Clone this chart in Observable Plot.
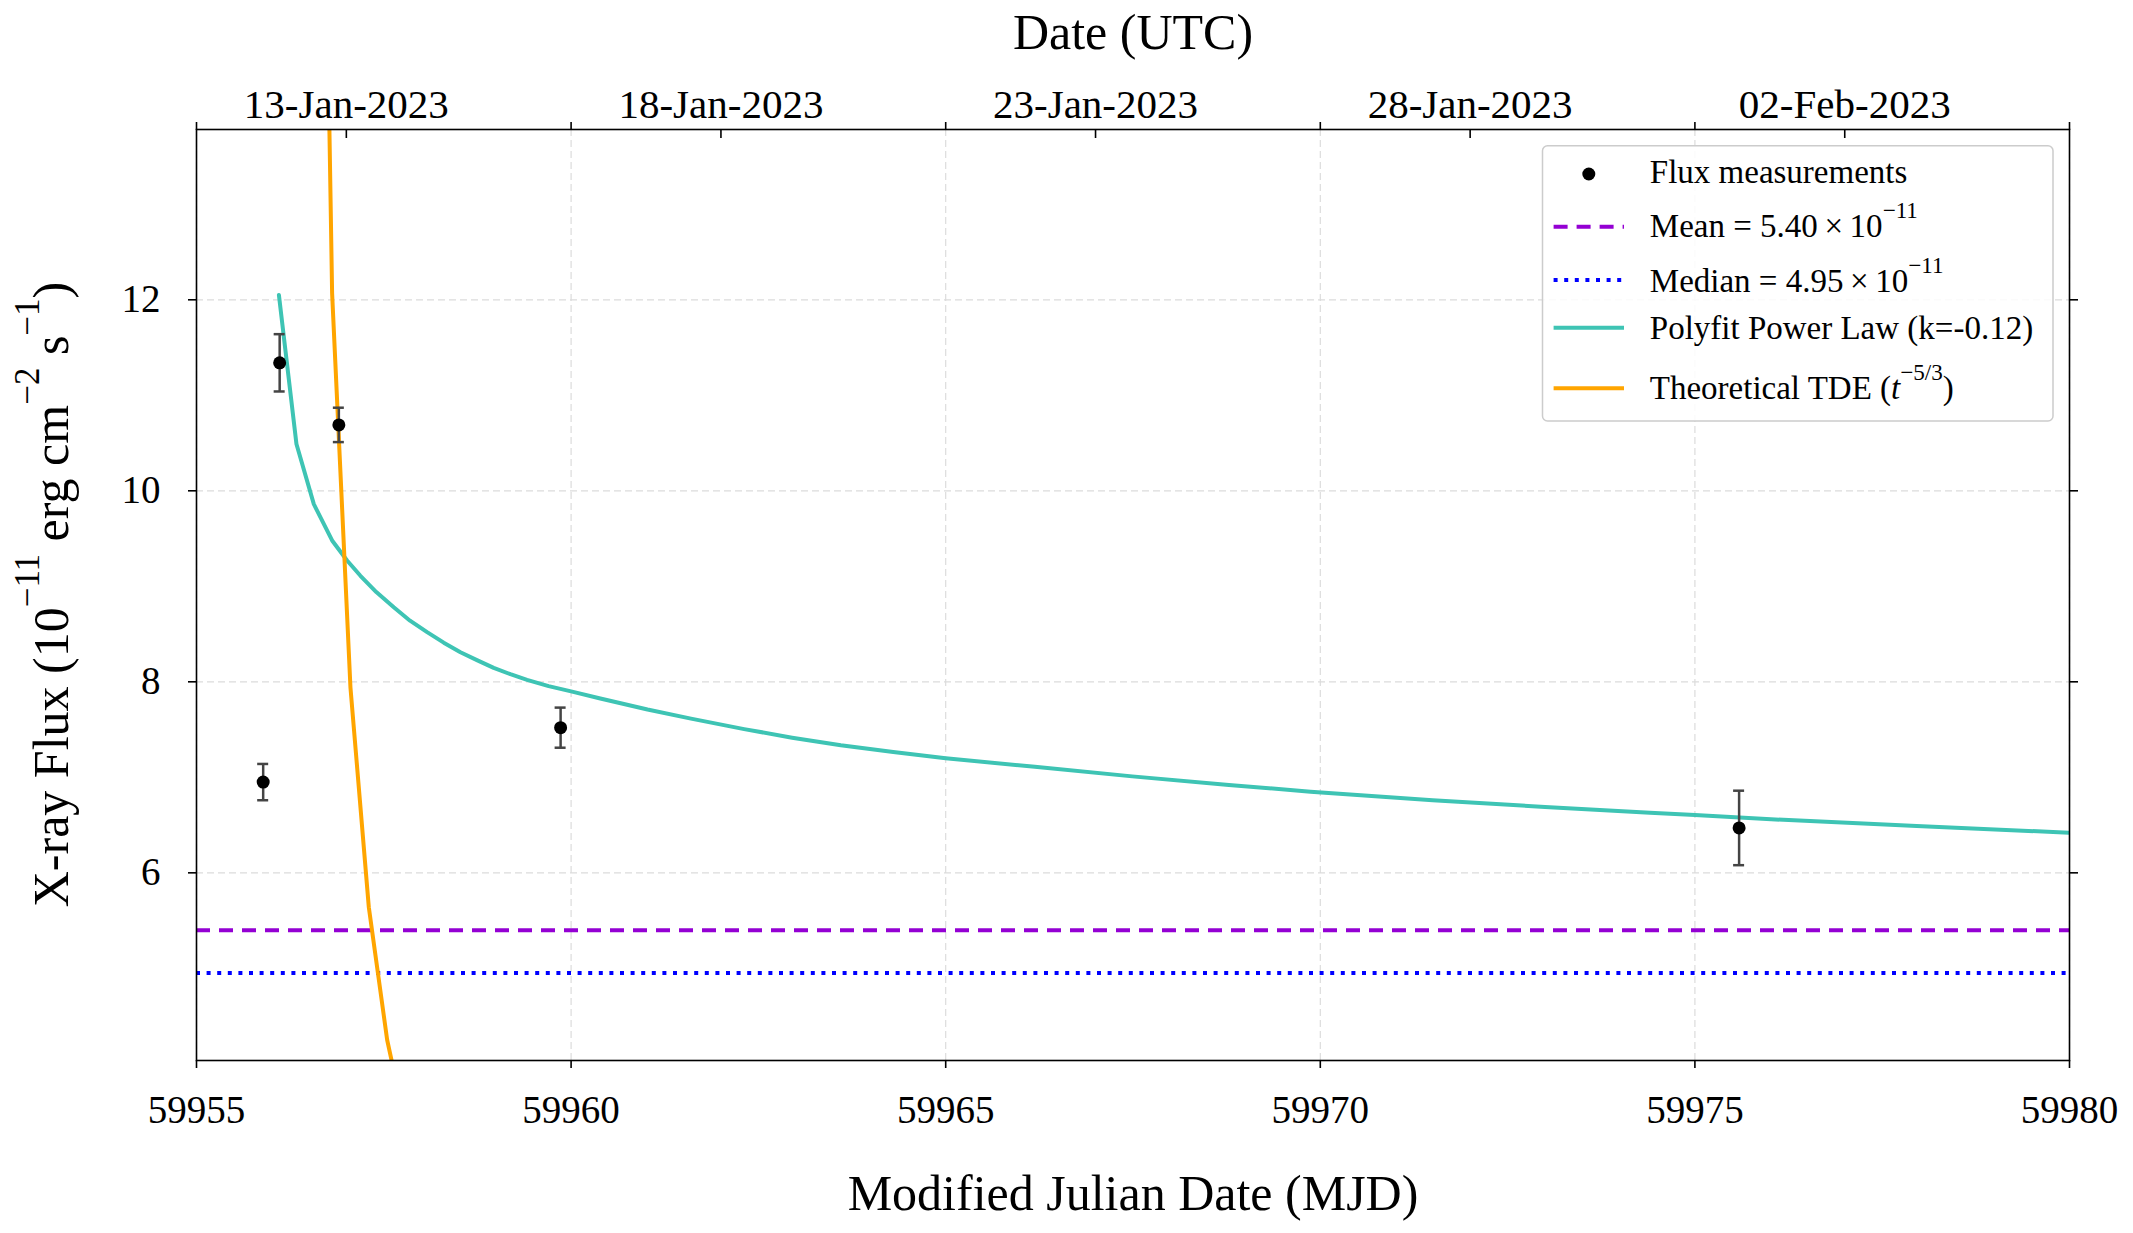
<!DOCTYPE html>
<html><head><meta charset="utf-8">
<script src="https://cdn.jsdelivr.net/npm/d3@7"></script>
<script src="https://cdn.jsdelivr.net/npm/@observablehq/plot@0.6"></script>
<style>body{margin:0;background:#fff}</style>
</head><body><div id="chart"></div>
<script>
// Flux measurements (10^-11 erg cm^-2 s^-1)
const obsMjd = [59955.89, 59956.11, 59956.90, 59959.86, 59975.59];
const obsFlux = [6.95, 11.34, 10.69, 7.52, 6.47];
const obsErr = [0.19, 0.30, 0.18, 0.21, 0.39];

// Polyfit power-law curve
const fitMjd = [59956.10, 59956.334, 59956.566, 59956.81, 59957.01, 59957.188, 59957.40, 59957.633, 59957.85, 59958.078, 59958.30, 59958.523, 59958.75, 59958.967, 59959.19, 59959.412, 59959.70, 59960.0, 59960.39, 59961.02, 59961.60, 59962.31, 59962.95, 59963.60, 59964.30, 59965.0, 59966.19, 59967.49, 59968.78, 59969.87, 59971.5, 59973.0, 59974.4, 59975.0, 59976.18, 59977.96, 59980.0];
const fitFlux = [12.05, 10.49, 9.86, 9.48, 9.27, 9.11, 8.94, 8.78, 8.64, 8.52, 8.41, 8.31, 8.225, 8.146, 8.08, 8.021, 7.955, 7.90, 7.825, 7.71, 7.615, 7.505, 7.415, 7.335, 7.265, 7.20, 7.11, 7.01, 6.92, 6.85, 6.76, 6.69, 6.63, 6.605, 6.555, 6.49, 6.42];

// Theoretical TDE t^-5/3 curve
const tdeMjd = [59956.57, 59956.81, 59957.055, 59957.30, 59957.545, 59957.79];
const tdeFlux = [23.5, 12.07, 7.94, 5.64, 4.25, 3.36];

const meanFlux = 5.40;
const medianFlux = 4.95;

const xTicks = [59955, 59960, 59965, 59970, 59975, 59980];
const yTicks = [6, 8, 10, 12];
const dateTicks = [59957, 59962, 59967, 59972, 59977];
const dateLabels = ["13-Jan-2023", "18-Jan-2023", "23-Jan-2023", "28-Jan-2023", "02-Feb-2023"];
const xDomain = [59955, 59980];
const yDomain = [4.035, 13.783];

const xTitle = "Modified Julian Date (MJD)";
const topTitle = "Date (UTC)";

const points = obsMjd.map((x, i) => ({x, y: obsFlux[i], lo: obsFlux[i] - obsErr[i], hi: obsFlux[i] + obsErr[i]}));
const fit = fitMjd.map((x, i) => ({x, y: fitFlux[i]}));
const tde = tdeMjd.map((x, i) => ({x, y: tdeFlux[i]}));

const teal = "#3ec4b4";
const orange = "#FFA500";
const purple = "#9400D3";
const blue = "#0000FF";
const errColor = "#444444";
const gridStyle = {stroke: "#dcdcdc", strokeOpacity: 1, strokeDasharray: "7,4", strokeWidth: 1.2};

const chart = Plot.plot({
  width: 2133, height: 1233,
  marginLeft: 196, marginRight: 64, marginTop: 129, marginBottom: 173,
  x: {domain: xDomain},
  y: {domain: yDomain},
  style: {fontFamily: "'Liberation Serif', 'Times New Roman', serif", fontSize: "39px", background: "white", color: "black"},
  marks: [
    Plot.gridX(xTicks, gridStyle),
    Plot.gridY(yTicks, gridStyle),
    Plot.ruleY([meanFlux], {stroke: purple, strokeWidth: 4, strokeDasharray: "14,9"}),
    Plot.ruleY([medianFlux], {stroke: blue, strokeWidth: 4, strokeDasharray: "4,6.6"}),
    Plot.line(fit, {x: "x", y: "y", stroke: teal, strokeWidth: 4, clip: true}),
    Plot.line(tde, {x: "x", y: "y", stroke: orange, strokeWidth: 4, clip: true}),
    Plot.ruleX(points, {x: "x", y1: "lo", y2: "hi", stroke: errColor, strokeWidth: 2.5}),
    Plot.ruleY(points, {y: "lo", x1: "x", x2: "x", insetLeft: -5.5, insetRight: -5.5, stroke: errColor, strokeWidth: 2.5}),
    Plot.ruleY(points, {y: "hi", x1: "x", x2: "x", insetLeft: -5.5, insetRight: -5.5, stroke: errColor, strokeWidth: 2.5}),
    Plot.dot(points, {x: "x", y: "y", r: 6.5, fill: "black", stroke: null}),
    Plot.frame({stroke: "black", strokeWidth: 1.6}),
    Plot.axisX(xTicks, {anchor: "bottom", tickSize: 8, tickPadding: 27, tickFormat: d => String(d), label: null, fontSize: 39, strokeWidth: 1.6}),
    Plot.axisX(xTicks, {anchor: "top", tickSize: 8, tickFormat: () => "", label: null, strokeWidth: 1.6}),
    Plot.axisX(dateTicks, {anchor: "top", tickSize: 0, tickPadding: 12, tickFormat: d => dateLabels[dateTicks.indexOf(d)], label: null, fontSize: 41}),
    Plot.axisX(dateTicks, {anchor: "top", tickSize: 8, dy: 8, tickFormat: () => "", label: null, strokeWidth: 1.6}),
    Plot.axisY(yTicks, {anchor: "left", tickSize: 8, tickPadding: 28, tickFormat: d => String(d), label: null, fontSize: 39, strokeWidth: 1.6}),
    Plot.axisY(yTicks, {anchor: "right", tickSize: 8, tickFormat: () => "", label: null, strokeWidth: 1.6}),
    Plot.text([xTitle], {text: d => d, frameAnchor: "bottom", lineAnchor: "middle", dy: 133, fontSize: 50}),
    Plot.text([topTitle], {text: d => d, frameAnchor: "top", lineAnchor: "middle", dy: -97, fontSize: 50})
  ]
});
document.getElementById("chart").appendChild(chart);

const svg = d3.select(chart);
const FONT = "'Liberation Serif', 'Times New Roman', serif";

function rich(sel, parts, size, supRaise) {
  let shifted = 0;
  parts.forEach(p => {
    const ts = sel.append("tspan").text(p.t);
    const want = p.sup ? -supRaise : 0;
    if (want !== shifted) { ts.attr("dy", want - shifted); shifted = want; }
    ts.attr("font-size", p.sup ? size * 0.7 : size);
    if (p.it) ts.attr("font-style", "italic");
  });
}

// y-axis title
const yl = svg.append("text")
  .attr("transform", "translate(68,594.5) rotate(-90)")
  .attr("text-anchor", "middle").attr("font-family", FONT).attr("fill", "black");
rich(yl, [
  {t: "X-ray Flux (10"}, {t: "\u221211", sup: true}, {t: " erg cm"}, {t: "\u22122", sup: true},
  {t: " s"}, {t: "\u22121", sup: true}, {t: ")"}
], 50, 29);

// legend
const lg = svg.append("g").attr("font-family", FONT).attr("text-anchor", "start");
lg.append("rect").attr("x", 1542.5).attr("y", 145.7).attr("width", 510.5).attr("height", 275.3)
  .attr("rx", 5).attr("fill", "white").attr("fill-opacity", 0.85).attr("stroke", "#cccccc").attr("stroke-width", 1.5);
const entries = [
  {kind: "dot", cy: 174, base: 183.3, parts: [{t: "Flux measurements"}]},
  {kind: "line", color: purple, dash: "14,9", cy: 226.7, base: 236.7, parts: [{t: "Mean = 5.40\u2009\u00d7\u200910"}, {t: "\u221211", sup: true}]},
  {kind: "line", color: blue, dash: "4,6.6", cy: 280, base: 291.7, parts: [{t: "Median = 4.95\u2009\u00d7\u200910"}, {t: "\u221211", sup: true}]},
  {kind: "line", color: teal, dash: null, cy: 327.7, base: 339.3, parts: [{t: "Polyfit Power Law (k=-0.12)"}]},
  {kind: "line", color: orange, dash: null, cy: 388.3, base: 399.3, parts: [{t: "Theoretical TDE ("}, {t: "t", it: true}, {t: "\u22125/3", sup: true}, {t: ")"}]}
];
entries.forEach(e => {
  if (e.kind === "dot") {
    lg.append("circle").attr("cx", 1588.8).attr("cy", e.cy).attr("r", 6.5).attr("fill", "black");
  } else {
    const l = lg.append("line").attr("x1", 1553.6).attr("x2", 1624).attr("y1", e.cy).attr("y2", e.cy)
      .attr("stroke", e.color).attr("stroke-width", 4);
    if (e.dash) l.attr("stroke-dasharray", e.dash);
  }
  const t = lg.append("text").attr("x", 1649.8).attr("y", e.base).attr("fill", "black").attr("text-anchor", "start");
  rich(t, e.parts, 33, 19);
});
</script>
</body></html>
